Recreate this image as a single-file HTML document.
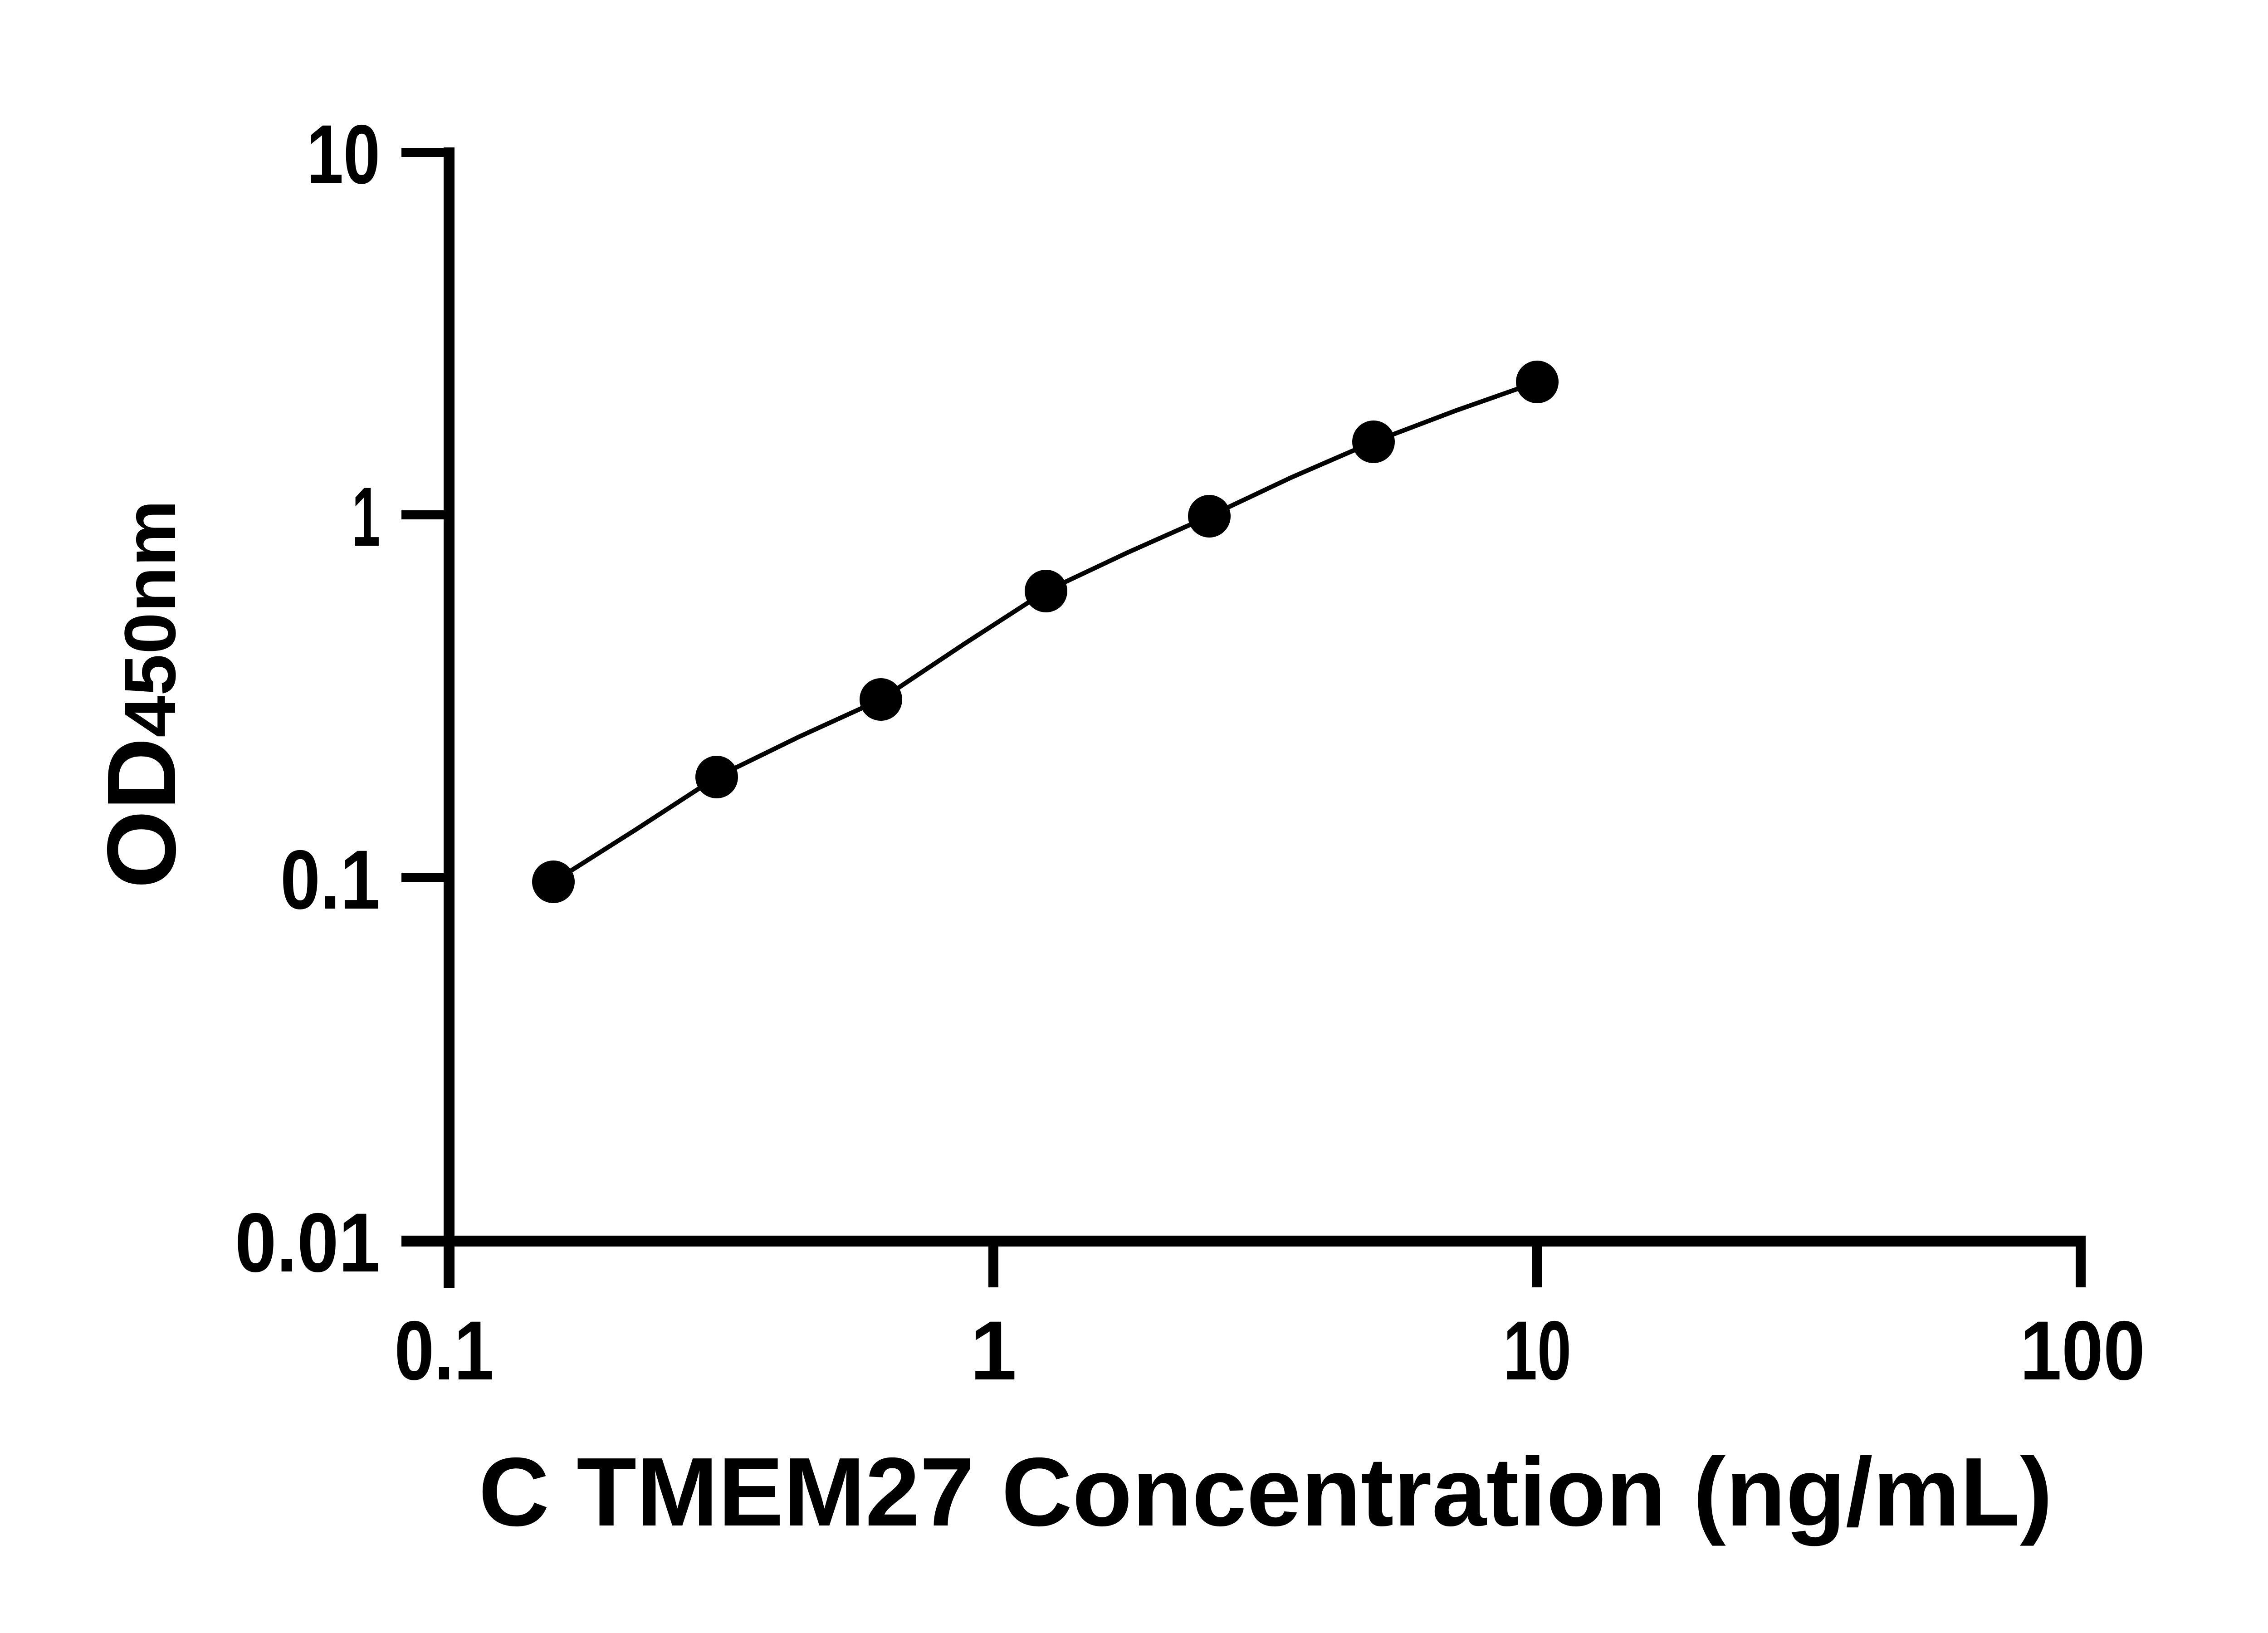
<!DOCTYPE html>
<html><head><meta charset="utf-8"><style>html,body{margin:0;padding:0;background:#fff;}svg{display:block}</style></head>
<body>
<svg width="5142" height="3600" viewBox="0 0 5142 3600" xmlns="http://www.w3.org/2000/svg" font-family="Liberation Sans, Arial, sans-serif" font-weight="bold">
<rect width="5142" height="3600" fill="#fff"/>
<!-- axes -->
<line x1="990" y1="325" x2="990" y2="2840" stroke="#000" stroke-width="24"/>
<line x1="885" y1="2736" x2="4598" y2="2736" stroke="#000" stroke-width="24"/>
<!-- y ticks -->
<g stroke="#000" stroke-width="20">
<line x1="885" y1="336" x2="1000" y2="336"/>
<line x1="885" y1="1135" x2="1000" y2="1135"/>
<line x1="885" y1="1935" x2="1000" y2="1935"/>
</g>
<!-- x ticks -->
<g stroke="#000" stroke-width="22">
<line x1="2190" y1="2736" x2="2190" y2="2838"/>
<line x1="3389" y1="2736" x2="3389" y2="2838"/>
<line x1="4587" y1="2736" x2="4587" y2="2838"/>
</g>
<!-- y tick labels -->
<g font-size="185" text-anchor="end">
<text x="838" y="404" textLength="162" lengthAdjust="spacingAndGlyphs">10</text>
<text x="838" y="1203" textLength="62" lengthAdjust="spacingAndGlyphs">1</text>
<text x="838" y="2003" textLength="220" lengthAdjust="spacingAndGlyphs">0.1</text>
<text x="838" y="2803" textLength="320" lengthAdjust="spacingAndGlyphs">0.01</text>
</g>
<!-- x tick labels -->
<g font-size="185" text-anchor="middle">
<text x="979" y="3041" textLength="219" lengthAdjust="spacingAndGlyphs">0.1</text>
<text x="2190" y="3041">1</text>
<text x="3389" y="3041" textLength="150" lengthAdjust="spacingAndGlyphs">10</text>
<text x="4591" y="3041" textLength="276" lengthAdjust="spacingAndGlyphs">100</text>
</g>
<!-- axis titles -->
<text x="1055" y="3363" font-size="215" textLength="3470" lengthAdjust="spacingAndGlyphs">C TMEM27 Concentration (ng/mL)</text>
<text transform="translate(386,1959) rotate(-90)" font-size="215" textLength="857" lengthAdjust="spacingAndGlyphs">OD<tspan font-size="160">450nm</tspan></text>
<!-- curve -->
<polyline fill="none" stroke="#000" stroke-width="10" points="1220,1944 1400,1830 1580,1713 1760,1625 1942,1542 2125,1420 2306,1303 2486,1218 2666,1138 2848,1052 3028,974 3210,905 3389,842"/>
<g fill="#000">
<circle cx="1220" cy="1944" r="47"/>
<circle cx="1580" cy="1713" r="47"/>
<circle cx="1942" cy="1542" r="47"/>
<circle cx="2306" cy="1303" r="47"/>
<circle cx="2666" cy="1138" r="47"/>
<circle cx="3028" cy="974" r="47"/>
<circle cx="3389" cy="842" r="47"/>
</g>
</svg>
</body></html>
